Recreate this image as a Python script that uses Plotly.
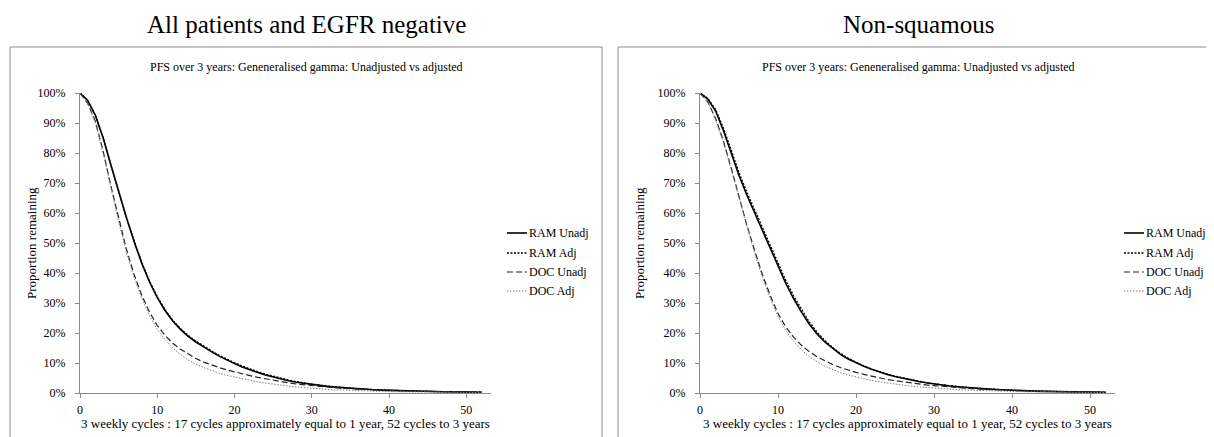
import plotly.graph_objects as go

# cycles (3-weekly) 0..52
cycles = list(range(53))

# All patients and EGFR negative (proportion remaining, %)
all_ram_unadj = [100, 97.5, 92.5, 85, 76, 67, 58.5, 50.5, 43.2, 37, 31.8, 27.5, 24, 21.2, 18.9, 17, 15.3,
                 13.8, 12.3, 11, 9.8, 8.7, 7.7, 6.8, 6.0, 5.3, 4.7, 4.1, 3.6, 3.2, 2.8, 2.5, 2.2, 1.95, 1.73,
                 1.54, 1.37, 1.22, 1.09, 0.97, 0.87, 0.78, 0.7, 0.62, 0.56, 0.5, 0.45, 0.4, 0.36, 0.32, 0.29,
                 0.26, 0.23]
all_ram_adj = [100, 97.5, 92.5, 85, 76, 67, 58.7, 50.8, 43.5, 37.3, 32.1, 27.8, 24.3, 21.5, 19.2, 17.3, 15.6,
               14.1, 12.6, 11.3, 10.1, 9.0, 8.0, 7.1, 6.3, 5.6, 4.9, 4.3, 3.8, 3.35, 2.95, 2.6, 2.3, 2.03, 1.8,
               1.6, 1.42, 1.26, 1.12, 1.0, 0.9, 0.8, 0.72, 0.64, 0.57, 0.51, 0.46, 0.41, 0.37, 0.33, 0.3,
               0.27, 0.24]
all_doc_unadj = [100, 96.5, 90.5, 80.5, 69, 58, 48, 39.5, 32.5, 27, 22.5, 19.2, 16.6, 14.6, 12.9, 11.5, 10.3,
                 9.3, 8.5, 7.7, 7.0, 6.4, 5.8, 5.2, 4.7, 4.2, 3.8, 3.4, 3.0, 2.7, 2.4, 2.15, 1.95, 1.75, 1.58,
                 1.42, 1.28, 1.15, 1.04, 0.94, 0.85, 0.77, 0.7, 0.63, 0.57, 0.52, 0.47, 0.43, 0.39, 0.35, 0.32,
                 0.29, 0.26]
all_doc_adj = [100, 96.5, 90, 80, 68.5, 57, 47, 38.5, 31.5, 25.8, 21.2, 17.8, 15.0, 12.8, 11.0, 9.6, 8.5,
               7.5, 6.6, 5.9, 5.3, 4.7, 4.2, 3.7, 3.3, 2.9, 2.6, 2.3, 2.0, 1.75, 1.55, 1.37, 1.21, 1.07,
               0.95, 0.84, 0.75, 0.67, 0.6, 0.53, 0.47, 0.42, 0.38, 0.34, 0.31, 0.28, 0.25, 0.22, 0.2, 0.18,
               0.16, 0.15, 0.13]

# Non-squamous
nsq_ram_unadj = [100, 98, 94, 87.5, 80, 72.5, 66, 60, 54, 48, 42, 36.5, 31.5, 27, 23, 19.7, 17,
                 14.8, 12.9, 11.3, 10.0, 8.9, 7.9, 7.0, 6.2, 5.5, 4.9, 4.35, 3.85, 3.4, 3.0, 2.65, 2.35, 2.1,
                 1.85, 1.65, 1.45, 1.3, 1.15, 1.0, 0.9, 0.8, 0.7, 0.62, 0.55, 0.49, 0.43, 0.38, 0.34, 0.3,
                 0.27, 0.24, 0.21]
nsq_ram_adj = [100, 98.2, 94.5, 88.3, 81, 73.5, 67, 61, 55, 49, 43, 37.5, 32.4, 27.8, 23.7, 20.3, 17.5,
               15.2, 13.2, 11.6, 10.2, 9.0, 8.0, 7.1, 6.3, 5.6, 5.0, 4.4, 3.9, 3.45, 3.05, 2.7, 2.4, 2.13,
               1.88, 1.67, 1.47, 1.31, 1.16, 1.02, 0.91, 0.81, 0.71, 0.63, 0.56, 0.5, 0.44, 0.39, 0.35,
               0.31, 0.28, 0.25, 0.22]
nsq_doc_unadj = [100, 97, 91.5, 84, 75, 65.5, 56, 47.5, 39.5, 32.5, 26.5, 22, 18.6, 15.9, 13.8, 12.1, 10.7,
                 9.5, 8.5, 7.6, 6.9, 6.2, 5.6, 5.0, 4.5, 4.1, 3.7, 3.3, 3.0, 2.7, 2.45, 2.2, 1.98, 1.78,
                 1.6, 1.44, 1.3, 1.17, 1.05, 0.95, 0.86, 0.77, 0.7, 0.63, 0.57, 0.51, 0.46, 0.42, 0.38,
                 0.34, 0.31, 0.28, 0.25]
nsq_doc_adj = [100, 97, 91, 83.5, 74.5, 65, 55.5, 46.5, 38.5, 31.5, 25.5, 20.8, 17.2, 14.4, 12.2, 10.4, 9.0,
               7.8, 6.8, 6.0, 5.3, 4.7, 4.15, 3.7, 3.3, 2.95, 2.6, 2.3, 2.05, 1.82, 1.62, 1.44, 1.28, 1.14,
               1.01, 0.9, 0.8, 0.71, 0.63, 0.56, 0.5, 0.45, 0.4, 0.36, 0.32, 0.28, 0.25, 0.22, 0.2,
               0.18, 0.16, 0.14, 0.13]

series_names = ["RAM Unadj", "RAM Adj", "DOC Unadj", "DOC Adj"]
panel_titles = ["All patients and EGFR negative", "Non-squamous"]
chart_title = "PFS over 3 years: Geneneralised gamma: Unadjusted vs adjusted"
x_title = "3 weekly cycles : 17 cycles approximately equal to 1 year, 52 cycles to 3 years"
y_title = "Proportion remaining"

# the page body keeps its 8px margin, so the figure starts 8px in
OFF = 8
W, H = 1214 - OFF, 437 - OFF
FONT = "Liberation Serif, Times New Roman, serif"

styles = [
    dict(color="black", width=1.6, dash="solid"),
    dict(color="black", width=1.3, dash="2px,1.5px"),
    dict(color="#222222", width=1.2, dash="6px,3px"),
    dict(color="#808080", width=1.0, dash="1.5px,1.5px"),
]


def px_x(v):
    return (v - OFF) / W


def px_y(v):
    return 1 - (v - OFF) / H


fig = go.Figure()

panels = [
    (all_ram_unadj, all_ram_adj, all_doc_unadj, all_doc_adj),
    (nsq_ram_unadj, nsq_ram_adj, nsq_doc_unadj, nsq_doc_adj),
]
# screen pixel positions per panel
plot_x = [(80, 491), (700, 1115)]
frame_x = [(10, 602), (618, 1240)]
title_cx = [306, 918]
legend_x = [507, 1124]
legend_rows = [233, 253, 272, 291]

for p, data in enumerate(panels):
    xa = "x" if p == 0 else "x2"
    ya = "y" if p == 0 else "y2"
    for name, vals, st in zip(series_names, data, styles):
        fig.add_trace(go.Scatter(
            x=cycles, y=[v / 100 for v in vals], mode="lines", name=name,
            line=st, xaxis=xa, yaxis=ya, showlegend=False,
        ))

axis_common = dict(
    showgrid=False, zeroline=False, showline=True, linecolor="#8c8c8c", linewidth=1,
    ticks="outside", ticklen=4, tickcolor="#8c8c8c",
    tickfont=dict(family=FONT, size=12, color="black"),
)

for p in range(2):
    sfx = "" if p == 0 else "2"
    x0, x1 = plot_x[p]
    fig.layout["xaxis" + sfx] = dict(
        axis_common, domain=[px_x(x0), px_x(x1)], range=[0, 53.2],
        tickvals=[0, 10, 20, 30, 40, 50], anchor="y" + sfx, ticklabelstandoff=2,
    )
    fig.layout["yaxis" + sfx] = dict(
        axis_common, domain=[px_y(393), px_y(93)], range=[0, 1],
        tickvals=[i / 10 for i in range(11)], tickformat=".0%", anchor="x" + sfx,
        ticklabelstandoff=7,
    )
    fx0, fx1 = frame_x[p]
    fig.add_shape(type="rect", xref="paper", yref="paper",
                  x0=px_x(fx0), x1=px_x(fx1), y0=px_y(460), y1=px_y(47),
                  line=dict(color="#8c8c8c", width=1), layer="below")
    ann = dict(xref="paper", yref="paper", showarrow=False, xanchor="center", yanchor="middle")
    fig.add_annotation(text=panel_titles[p], x=px_x(title_cx[p]), y=px_y(25),
                       font=dict(family=FONT, size=25, color="black"), **ann)
    fig.add_annotation(text=chart_title, x=px_x(title_cx[p]), y=px_y(67),
                       font=dict(family=FONT, size=12, color="black"), **ann)
    fig.add_annotation(text=x_title, x=px_x((x0 + x1) / 2), y=px_y(423),
                       font=dict(family=FONT, size=13, color="black"), **ann)
    fig.add_annotation(text=y_title, x=px_x(fx0 + 21), y=px_y(243), textangle=-90,
                       font=dict(family=FONT, size=13, color="black"), **ann)

    # legend: short line key + label
    lx = legend_x[p]
    for name, st, ry in zip(series_names, styles, legend_rows):
        fig.add_shape(type="line", xref="paper", yref="paper",
                      x0=px_x(lx), x1=px_x(lx + 20), y0=px_y(ry), y1=px_y(ry), line=st)
        fig.add_annotation(text=name, x=px_x(lx + 20), y=px_y(ry), xref="paper", yref="paper",
                           showarrow=False, xanchor="left", yanchor="middle",
                           font=dict(family=FONT, size=12, color="black"))

fig.update_layout(
    width=W, height=H, margin=dict(l=0, r=0, t=0, b=0, autoexpand=False),
    paper_bgcolor="white", plot_bgcolor="white", showlegend=False,
)

fig.write_html("out.html")
